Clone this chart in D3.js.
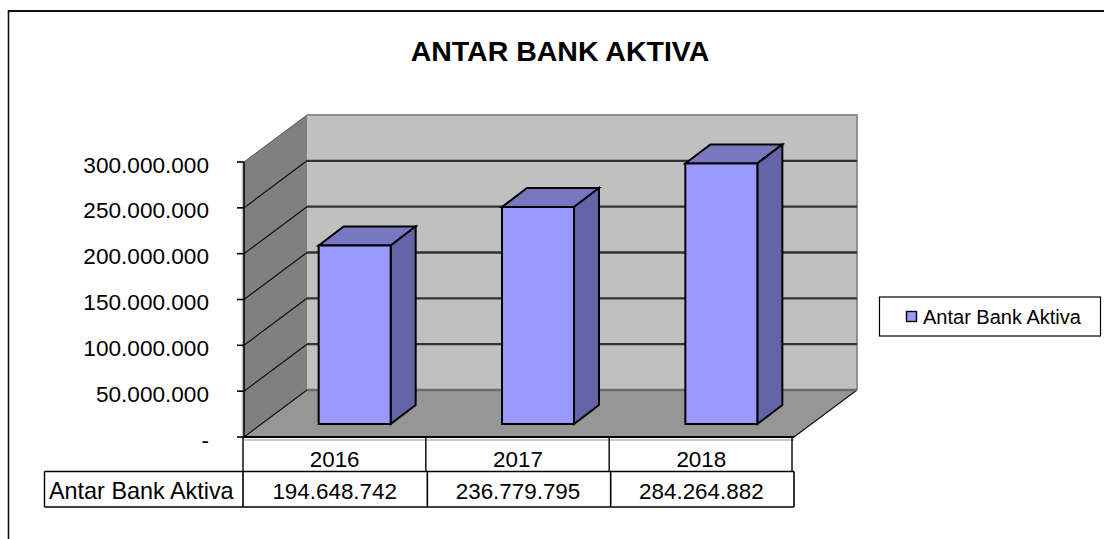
<!DOCTYPE html>
<html><head><meta charset="utf-8">
<script src="https://cdn.jsdelivr.net/npm/d3@7"></script>
<style>html,body{margin:0;padding:0;background:#fff}svg{display:block}text{font-family:"Liberation Sans",Arial,sans-serif;fill:#000}</style>
</head><body><svg id="c" width="1104" height="539"></svg>
<script>
const categories = ["2016","2017","2018"];
const seriesName = "Antar Bank Aktiva";
const values = [194648742,236779795,284264882];
const valueLabels = ["194.648.742","236.779.795","284.264.882"];
const tickValues = [0,50000000,100000000,150000000,200000000,250000000,300000000];
const tickLabels = ["-","50.000.000","100.000.000","150.000.000","200.000.000","250.000.000","300.000.000"];
const title = "ANTAR BANK AKTIVA";

const svg = d3.select("#c");
const x = d3.scaleBand().domain(categories).range([244,794]);
const y = d3.scaleLinear().domain([0,300000000]).range([437,162]);
const wall = {dx:63, dy:-47}, bar = {dx:19, dy:-13, w:72, sx:25, sy:-19};
const line = d3.line();
const seg = (a,b,stroke,sw)=>svg.append("path").attr("d",line([a,b])).attr("fill","none").attr("stroke",stroke).attr("stroke-width",sw);
const poly = (pts,fill,stroke,sw)=>svg.append("path").attr("d",line(pts)+"Z").attr("fill",fill).attr("stroke",stroke||"none").attr("stroke-width",sw||0);

// frame: only top and left edges are visible in the picture
seg([8.5,11],[1104,11],"#111",2);
seg([8.5,10],[8.5,539],"#111",1.6);
svg.append("text").attr("x",560).attr("y",61).attr("text-anchor","middle").attr("font-weight","bold").attr("font-size",28.5).text(title);

const L=x.range()[0], R=x.range()[1], B=y(0), T=y(300000000);
// walls
poly([[L+wall.dx,T+wall.dy],[R+wall.dx,T+wall.dy],[R+wall.dx,B+wall.dy],[L+wall.dx,B+wall.dy]],"#c0c0c0");
svg.append("path").attr("d",line([[L+wall.dx,T+wall.dy],[R+wall.dx,T+wall.dy],[R+wall.dx,B+wall.dy]])).attr("fill","none").attr("stroke","#8f8f8f").attr("stroke-width",2);
poly([[L,T],[L+wall.dx,T+wall.dy],[L+wall.dx,B+wall.dy],[L,B]],"#808080");
poly([[L,B],[L+wall.dx,B+wall.dy],[R+wall.dx,B+wall.dy],[R,B]],"#969696");
seg([L,T],[L+wall.dx,T+wall.dy],"#555",1);
seg([L-1.5,T],[L-1.5,B],"#c0c0c0",1.5);
// gridlines
tickValues.forEach(v=>{
  const p=y(v);
  if(v>0 && v<300000000) seg([L+wall.dx,p+wall.dy],[R+wall.dx,p+wall.dy],"#333",2.4);
  if(v<300000000) seg([L,p],[L+wall.dx,p+wall.dy],"#111",1.2);
  seg([L-7,p],[L,p],"#000",1.6);
});
seg([R,B],[R+wall.dx,B+wall.dy],"#111",1.2);
seg([L+wall.dx,B+wall.dy],[R+wall.dx,B+wall.dy],"#6b6b6b",2.4);
// axes
seg([L,T],[L,B],"#000",1.6);
seg([L,B+3],[R,B+3],"#c8c8c8",2);
seg([L,B],[R,B],"#000",2);
svg.selectAll(".tl").data(tickValues).join("text").attr("class","tl")
  .attr("x",209).attr("y",d=>y(d)+10.5).attr("text-anchor","end").attr("font-size",22.6)
  .text((d,i)=>tickLabels[i]);
// bars
categories.forEach((c,i)=>{
  const x0=x(c)+(x.bandwidth()-bar.w)/2+bar.dx, x1=x0+bar.w, y0=B+bar.dy, y1=y(values[i])+bar.dy;
  poly([[x0,y1],[x0+bar.sx,y1+bar.sy],[x1+bar.sx,y1+bar.sy],[x1,y1]],"#7878c0","#000",2);
  poly([[x1,y1],[x1+bar.sx,y1+bar.sy],[x1+bar.sx,y0+bar.sy],[x1,y0]],"#6464a8","#000",2);
  poly([[x0,y1],[x1,y1],[x1,y0],[x0,y0]],"#9999ff","#000",2);
});
// data table
const tMid=471.5, tBot=507, tLeft=44.5, yearShrink=2;
const yearEdge=p=>p-(R-p===0?yearShrink:(p===L?1:1.5));
categories.forEach((c,i)=>{
  const cx=x(c)+x.bandwidth()/2-1;
  svg.append("text").attr("x",cx).attr("y",467).attr("text-anchor","middle").attr("font-size",22.4).text(c);
  svg.append("text").attr("x",cx).attr("y",499).attr("text-anchor","middle").attr("font-size",22.4).text(valueLabels[i]);
});
categories.map(c=>x(c)).concat([R]).forEach(p=>{
  seg([yearEdge(p),B],[yearEdge(p),tMid],"#000",1.4);
  seg([p===L?L-1:p,tMid],[p===L?L-1:p,tBot],"#000",1.6);
});
seg([tLeft,tMid],[R,tMid],"#000",1.6);
seg([tLeft,tBot],[R,tBot],"#000",1.6);
seg([tLeft,tMid],[tLeft,tBot],"#000",1.4);
svg.append("text").attr("x",49).attr("y",498.5).attr("font-size",23.4).text(seriesName);
// legend
svg.append("rect").attr("x",879.5).attr("y",297).attr("width",221).attr("height",39).attr("fill","#fff").attr("stroke","#000").attr("stroke-width",1.2);
svg.append("rect").attr("x",906.5).attr("y",311.5).attr("width",10).attr("height",10).attr("fill","#9999ff").attr("stroke","#000").attr("stroke-width",1.4);
svg.append("text").attr("x",923).attr("y",323.5).attr("font-size",20).text(seriesName);
</script></body></html>
